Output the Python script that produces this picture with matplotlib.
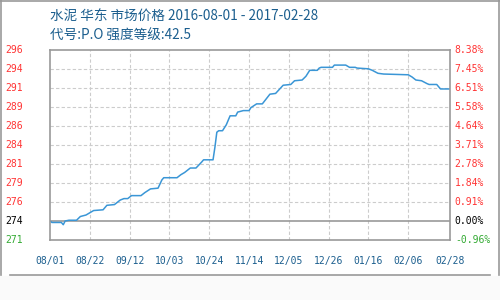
import matplotlib
matplotlib.use("Agg")
import matplotlib.pyplot as plt
import pandas as pd
from matplotlib.lines import Line2D

plt.rcParams['font.family'] = ['Noto Sans CJK SC', 'DejaVu Sans']

TITLE = "水泥 华东 市场价格 2016-08-01 - 2017-02-28"
SUBTITLE = "代号:P.O 强度等级:42.5"

dates = [
    "2016-08-01", "2016-08-02", "2016-08-07", "2016-08-08", "2016-08-09",
    "2016-08-11", "2016-08-15", "2016-08-17", "2016-08-20", "2016-08-22",
    "2016-08-24", "2016-08-29", "2016-08-31", "2016-09-04", "2016-09-07",
    "2016-09-09", "2016-09-11", "2016-09-13", "2016-09-18", "2016-09-20",
    "2016-09-23", "2016-09-27", "2016-09-29", "2016-09-30", "2016-10-07",
    "2016-10-09", "2016-10-11", "2016-10-14", "2016-10-17", "2016-10-20",
    "2016-10-21", "2016-10-26", "2016-10-27", "2016-10-28", "2016-10-29",
    "2016-10-31", "2016-11-02", "2016-11-04", "2016-11-07", "2016-11-08",
    "2016-11-11", "2016-11-14", "2016-11-15", "2016-11-18", "2016-11-21",
    "2016-11-25", "2016-11-28", "2016-12-02", "2016-12-06", "2016-12-08",
    "2016-12-12", "2016-12-14", "2016-12-16", "2016-12-20", "2016-12-21",
    "2016-12-22", "2016-12-28", "2016-12-29", "2017-01-04", "2017-01-06",
    "2017-01-09", "2017-01-10", "2017-01-16", "2017-01-18", "2017-01-21",
    "2017-01-24", "2017-02-06", "2017-02-08", "2017-02-10", "2017-02-13",
    "2017-02-16", "2017-02-17", "2017-02-21", "2017-02-23", "2017-02-28",
]
prices = [
    274.0, 273.8, 273.8, 273.5, 274.0,
    274.1, 274.1, 274.6, 274.8, 275.1,
    275.4, 275.5, 276.1, 276.2, 276.8,
    277.0, 277.0, 277.4, 277.4, 277.8,
    278.3, 278.4, 279.5, 279.8, 279.8,
    280.2, 280.5, 281.1, 281.1, 281.9,
    282.2, 282.2, 283.9, 285.9, 286.1,
    286.1, 286.9, 288.1, 288.1, 288.6,
    288.8, 288.8, 289.2, 289.7, 289.7,
    291.0, 291.1, 292.2, 292.3, 292.8,
    292.9, 293.4, 294.2, 294.2, 294.5,
    294.6, 294.6, 294.9, 294.9, 294.6,
    294.6, 294.5, 294.4, 294.2, 293.8,
    293.7, 293.6, 293.3, 292.9, 292.8,
    292.4, 292.3, 292.3, 291.7, 291.7,
]

base = 274.0
step = 2.55
left_labels = ["271", "274", "276", "279", "281", "284", "286", "289", "291", "294", "296"]
right_labels = ["-0.96%", "0.00%", "0.91%", "1.84%", "2.78%", "3.71%", "4.64%",
                "5.58%", "6.51%", "7.45%", "8.38%"]
x_ticks = ["2016-08-01", "2016-08-22", "2016-09-12", "2016-10-03", "2016-10-24",
           "2016-11-14", "2016-12-05", "2016-12-26", "2017-01-16", "2017-02-06",
           "2017-02-28"]

RED = "#ff3333"
GREEN = "#33aa33"
BLUE_TXT = "#1b5e8e"
LINE = "#3a96d6"
MONO = "DejaVu Sans Mono"

xs = pd.to_datetime(dates)
ticks = pd.to_datetime(x_ticks)
levels = [base + step * (i - 1) for i in range(len(left_labels))]

fig = plt.figure(figsize=(5, 3), dpi=100)
ax = fig.add_axes([0.1, 0.2, 0.8, 0.634])

ax.plot(xs, prices, color=LINE, linewidth=1.1)
ax.set_xlim(ticks[0], ticks[-1])
ax.set_ylim(levels[0], levels[-1])

for lv in levels[2:-1]:
    ax.axhline(lv, color="#cccccc", linestyle=(0, (3, 2)), linewidth=0.8, zorder=0)
for t in ticks[1:-1]:
    ax.axvline(t, color="#cccccc", linestyle=(0, (3, 2)), linewidth=0.8, zorder=0)
ax.axhline(base, color="#999999", linewidth=1.2, zorder=1)

for sp in ax.spines.values():
    sp.set_color("#999999")
    sp.set_linewidth(1.2)
ax.set_xticks([])
ax.set_yticks([])

tr_left = ax.get_yaxis_transform()
for lv, lab in zip(levels, left_labels):
    col = "black" if lab == "274" else (GREEN if float(lab) < base else RED)
    ax.text(-0.112, lv, lab, transform=tr_left, ha="left", va="center",
            fontsize=7, family=MONO, color=col)
for lv, lab in zip(levels, right_labels):
    col = "black" if lab == "0.00%" else (GREEN if lab.startswith("-") else RED)
    ax.text(1.012, lv, lab, transform=tr_left, ha="left", va="center",
            fontsize=7, family=MONO, color=col)
for t in ticks:
    ax.text(t, -0.11, t.strftime("%m/%d"), transform=ax.get_xaxis_transform(),
            ha="center", va="center", fontsize=7, family=MONO, color=BLUE_TXT)

fig.text(0.1, 0.943, TITLE, fontsize=9.8, color=BLUE_TXT, ha="left", va="center")
fig.text(0.1, 0.88, SUBTITLE, fontsize=9.8, color=BLUE_TXT, ha="left", va="center")

# outer frame and footer band
fig.patches.append(plt.Rectangle((0, 0), 1, 0.08, transform=fig.transFigure,
                                 color="#fafafa", zorder=-1))
for xy in (([0.001, 0.001], [0.083, 1]), ([0.998, 0.998], [0.083, 1]),
           ([0, 1], [0.998, 0.998]), ([0.02, 0.98], [0.083, 0.083])):
    fig.add_artist(Line2D(xy[0], xy[1], transform=fig.transFigure,
                          color="#999999", linewidth=1.2))

fig.savefig("out.png", dpi=100)
